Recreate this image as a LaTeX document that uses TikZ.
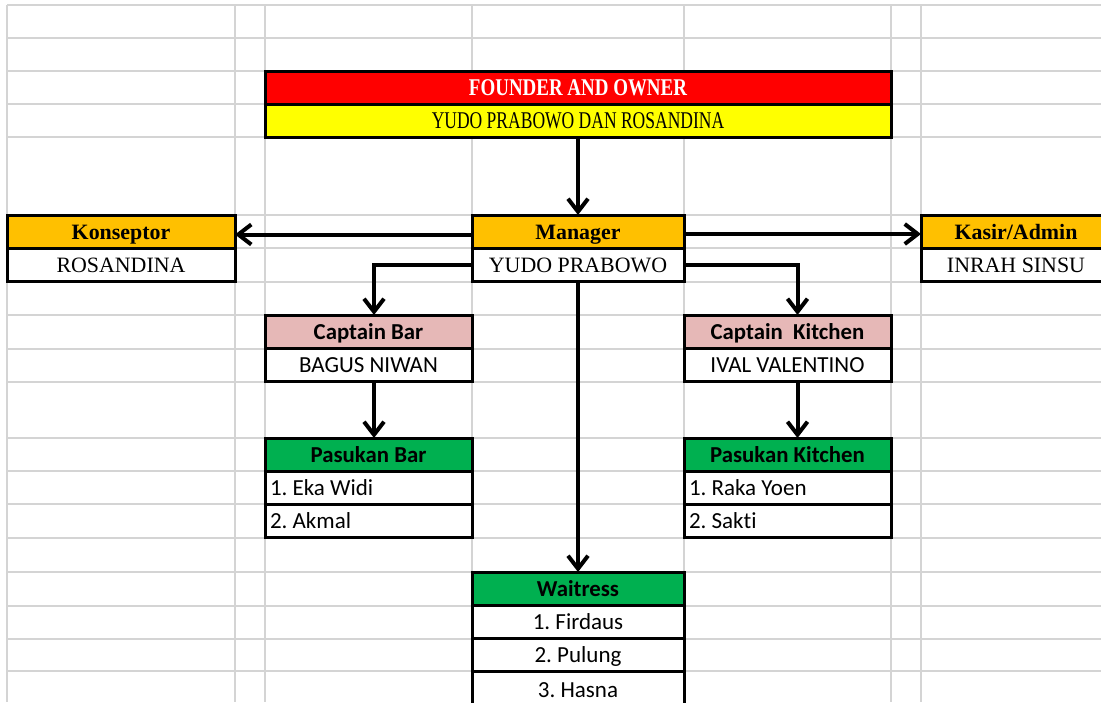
\documentclass[tikz,border=0pt,11pt]{standalone}
\usepackage{fontspec}
\setmainfont{Liberation Serif}
\newfontfamily\calibri[Ligatures=NoCommon]{Carlito}
\newfontfamily\condserif[FakeStretch=0.73]{Liberation Serif}
\newfontfamily\condserifbf[FakeStretch=0.79]{Liberation Serif Bold}
\usetikzlibrary{positioning,arrows.meta}
\definecolor{xlred}{HTML}{FF0000}
\definecolor{xlyellow}{HTML}{FFFF00}
\definecolor{xlorange}{HTML}{FFC000}
\definecolor{xlpink}{HTML}{E6B8B7}
\definecolor{xlgreen}{HTML}{00B050}
\definecolor{gridgray}{HTML}{D4D4D4}
\tikzset{
		% cells of the sheet: serif ones and calibri ones
		cell/.style={rectangle,draw=black,line width=1.5pt,inner sep=0pt,outer sep=0pt,
			minimum height=16.5pt,text height=9pt,text depth=1pt,fill=white},
		serif head/.style={cell,font=\bfseries},
		calibri head/.style={cell,font=\fontsize{11.4}{13}\calibri\bfseries,text height=8.7pt},
		calibri cell/.style={cell,font=\fontsize{11.5}{13}\calibri\frenchspacing,text height=8.7pt},
		list cell/.style={calibri cell,align=flush left,inner xsep=2.5pt,text width=98.5pt},
		link/.style={draw,line width=2pt,-{Straight Barb[length=6.5pt,width=10pt]}},
		grid line/.style={draw=gridgray,line width=0.75pt}
	}

\begin{document}
\begin{tikzpicture}[x=0.5pt,y=-0.5pt]
		\useasboundingbox (0,0) rectangle (1101,702);
		\clip (0,0) rectangle (1101,702);
		% sheet grid
		\foreach \gy in {5,38,71,104,137,215,248,282,315,349,382,438,471,504,538,572,606,639,671}
			\draw[grid line] (7,\gy) -- (1101,\gy);
		\foreach \gx in {7,235,265,472,684,891,921}
			\draw[grid line] (\gx,5) -- (\gx,702);

		% owner
		\node[serif head,anchor=north west,fill=xlred,text=white,font=\fontsize{12}{14}\condserifbf,minimum width=313pt] (owner) at (265,71) {FOUNDER AND OWNER};
		\node[cell,below=0pt of owner,fill=xlyellow,font=\fontsize{12}{14}\condserif,minimum width=313pt] (ownername) {YUDO PRABOWO DAN ROSANDINA};

		% second level
		\node[serif head,anchor=north west,fill=xlorange,minimum width=114pt] (konseptor) at (7,215) {Konseptor};
		\node[cell,below=0pt of konseptor,minimum width=114pt] (konseptorname) {ROSANDINA};
		\node[serif head,anchor=north west,fill=xlorange,minimum width=106pt] (manager) at (472,215) {Manager};
		\node[cell,below=0pt of manager,minimum width=106pt] (managername) {YUDO PRABOWO};
		\node[serif head,anchor=north west,fill=xlorange,minimum width=95pt] (kasir) at (921,215) {Kasir/Admin};
		\node[cell,below=0pt of kasir,minimum width=95pt] (kasirname) {INRAH SINSU};

		% captains
		\node[calibri head,anchor=north west,fill=xlpink,minimum width=103.5pt] (capbar) at (265,315) {Captain Bar};
		\node[calibri cell,below=0pt of capbar,minimum width=103.5pt] (capbarname) {BAGUS NIWAN};
		\node[calibri head,anchor=north west,fill=xlpink,minimum width=103.5pt] (capkitchen) at (684,315) {Captain\ \ Kitchen};
		\node[calibri cell,below=0pt of capkitchen,minimum width=103.5pt] (capkitchenname) {IVAL VALENTINO};

		% crews
		\node[calibri head,anchor=north west,fill=xlgreen,minimum width=103.5pt] (barcrew) at (265,438) {Pasukan Bar};
		\node[list cell,below=0pt of barcrew] (barcrew1) {1. Eka Widi};
		\node[list cell,below=0pt of barcrew1] (barcrew2) {2. Akmal};
		\node[calibri head,anchor=north west,fill=xlgreen,minimum width=103.5pt] (kitchencrew) at (684,438) {Pasukan Kitchen};
		\node[list cell,below=0pt of kitchencrew] (kitchencrew1) {1. Raka Yoen};
		\node[list cell,below=0pt of kitchencrew1] (kitchencrew2) {2. Sakti};
		\node[calibri head,anchor=north west,fill=xlgreen,minimum width=106pt] (waitress) at (472,572) {Waitress};
		\node[calibri cell,below=0pt of waitress,minimum width=106pt] (waitress1) {1. Firdaus};
		\node[calibri cell,below=0pt of waitress1,minimum width=106pt] (waitress2) {2. Pulung};
		\node[calibri cell,below=0pt of waitress2,minimum width=106pt,minimum height=19pt] (waitress3) {3. Hasna};

		% connectors
		\draw[link] (ownername.south) -- (manager.north);
		\draw[link] ([yshift=-1.5pt]manager.west) -- ([yshift=-1.5pt]konseptor.east);
		\draw[link] ([yshift=-1.25pt]manager.east) -- ([yshift=-1.25pt]kasir.west);
		\draw[link] (managername.west) -| ([xshift=2.75pt]capbar.north);
		\draw[link] (managername.east) -| ([xshift=5pt]capkitchen.north);
		\draw[link] ([xshift=2.75pt]capbarname.south) -- ([xshift=2.75pt]barcrew.north);
		\draw[link] ([xshift=5pt]capkitchenname.south) -- ([xshift=5pt]kitchencrew.north);
		\draw[link] (managername.south) -- (waitress.north);
	\end{tikzpicture}
\end{document}
